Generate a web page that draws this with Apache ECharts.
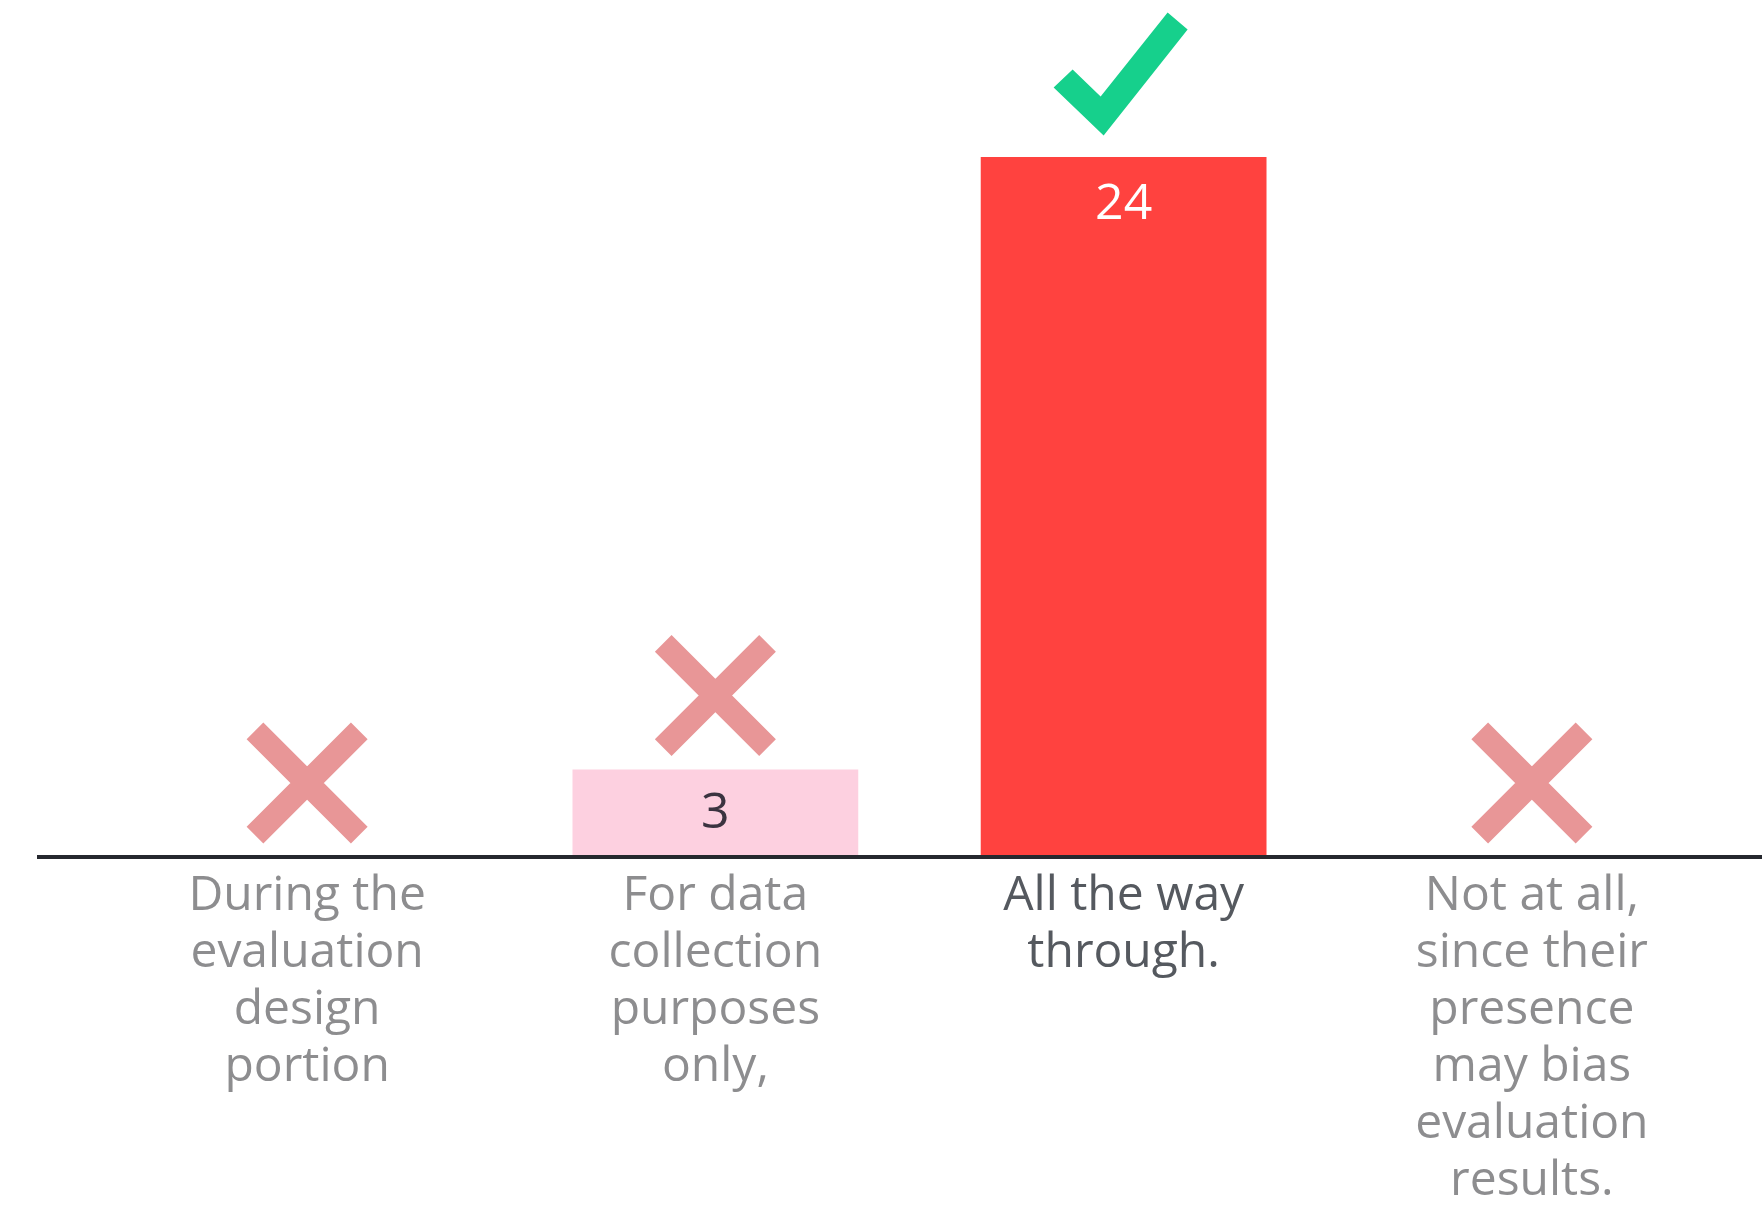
<!DOCTYPE html>
<html>
<head>
<meta charset="utf-8">
<script src="https://cdn.jsdelivr.net/npm/echarts@6/dist/echarts.min.js"></script>
<style>
html,body{margin:0;padding:0;background:#fff;}
#chart{width:1762px;height:1205px;}
</style>
</head>
<body>
<div id="chart"></div>
<script>
// ---- data ----
const categories = [
  "During the\nevaluation\ndesign\nportion",
  "For data\ncollection\npurposes\nonly,",
  "All the way\nthrough.",
  "Not at all,\nsince their\npresence\nmay bias\nevaluation\nresults."
];
const values = [0, 3, 24, 0];
const marks = ["cross", "cross", "check", "cross"];
const highlightIndex = 2;

// ---- styles ----
const barColors = ["#FDD0E0", "#FDD0E0", "#FF423F", "#FDD0E0"];
const crossPath = "path://M8 -8 L108 92 L92 108 L-8 8 Z M92 -8 L108 8 L8 108 L-8 92 Z";
const checkPath = "path://M0 75 L50 123 L134 17 L114 0 L47 84 L19 57 Z";
const FONT = "Open Sans";

const chart = echarts.init(document.getElementById('chart'), null, {renderer: 'canvas'});

const barData = values.map((v, i) => {
  const big = i === highlightIndex;
  return {
    value: v,
    itemStyle: {color: barColors[i]},
    label: {
      show: v > 0,
      position: big ? 'insideTop' : 'inside',
      distance: big ? 23 : 5,
      color: big ? '#ffffff' : '#3b3340',
      fontSize: 50,
      fontFamily: FONT
    }
  };
});

const markData = values.map((v, i) => {
  const isCheck = marks[i] === 'check';
  return {
    value: [i, v],
    symbol: isCheck ? checkPath : crossPath,
    symbolSize: isCheck ? [134, 123] : [121, 121],
    symbolOffset: isCheck ? [-3, -83] : [0, -74],
    itemStyle: {color: isCheck ? '#16D08C' : '#E89697', opacity: 1}
  };
});

const option = {
  backgroundColor: '#ffffff',
  animation: false,
  grid: {left: 103, right: 26, top: 157, bottom: 348, containLabel: false, outerBoundsMode: 'none'},
  xAxis: {
    type: 'category',
    data: categories,
    axisLine: {show: false},
    axisTick: {show: false},
    axisLabel: {
      interval: 0,
      margin: 11,
      fontSize: 48,
      lineHeight: 57,
      fontFamily: FONT,
      align: 'center',
      color: function (value, index) {
        return index === highlightIndex ? '#55595f' : '#8d8d8f';
      }
    }
  },
  yAxis: {
    type: 'value',
    min: 0,
    max: 24,
    show: false,
    splitLine: {show: false}
  },
  series: [
    {
      type: 'bar',
      data: barData,
      barWidth: '70%',
      silent: true
    },
    {
      type: 'scatter',
      data: markData,
      clip: false,
      silent: true,
      z: 5
    }
  ]
};

chart.setOption(option);

// full-width baseline drawn at the axis zero position
const base = chart.convertToPixel({gridIndex: 0}, [0, 0]);
chart.setOption({
  graphic: [{
    type: 'line',
    shape: {x1: 37, y1: base[1], x2: 1762, y2: base[1]},
    style: {stroke: '#25282e', lineWidth: 4},
    z: 10
  }]
});
</script>
</body>
</html>
